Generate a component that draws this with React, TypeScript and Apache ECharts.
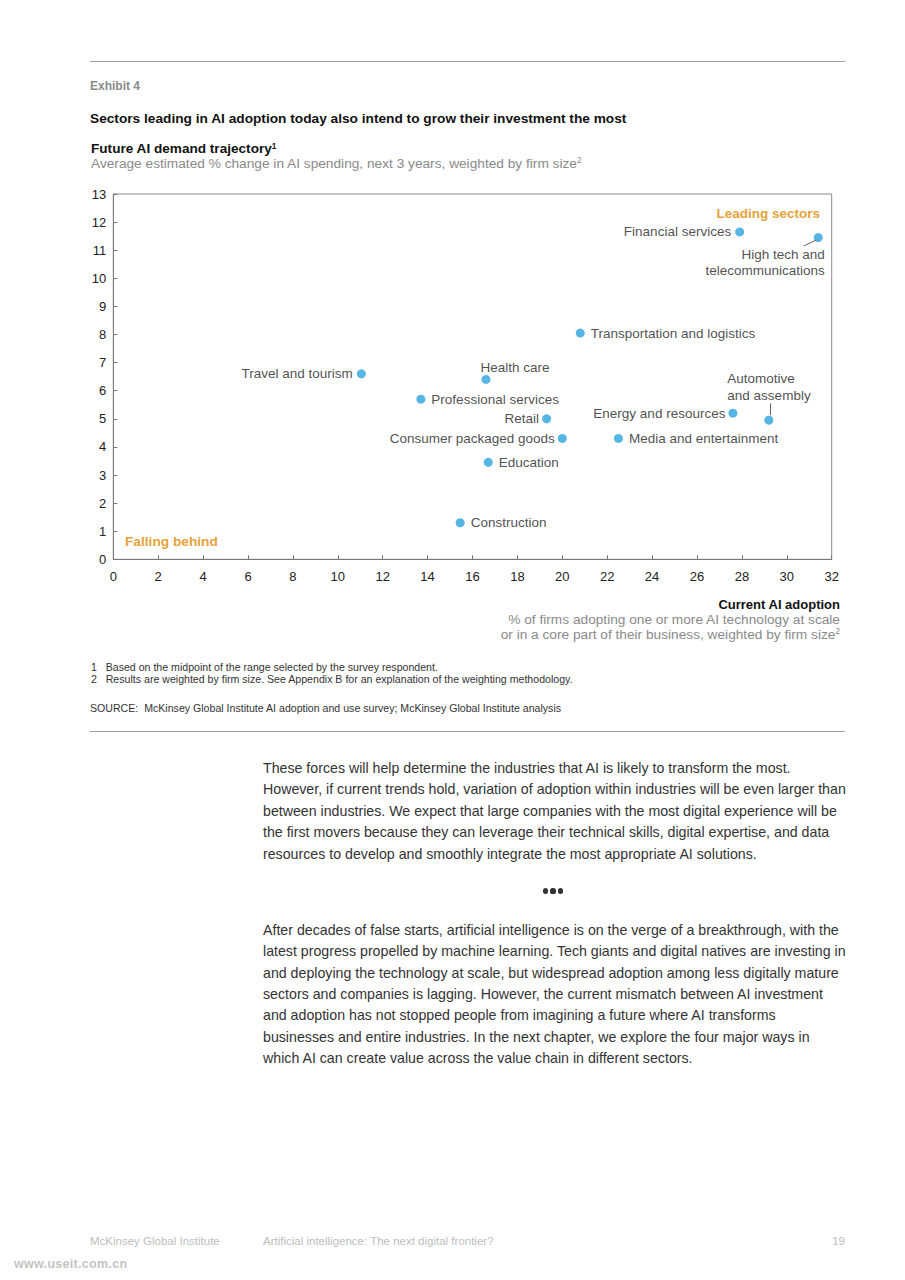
import React, { useEffect, useRef } from "react";
import * as echarts from "echarts";

// ---------- data ----------
const sectors = [
  "Financial services",
  "High tech and\ntelecommunications",
  "Transportation and logistics",
  "Travel and tourism",
  "Health care",
  "Professional services",
  "Retail",
  "Consumer packaged goods",
  "Education",
  "Construction",
  "Energy and resources",
  "Automotive\nand assembly",
  "Media and entertainment",
];
// Current AI adoption (% of firms)
const adoption = [27.9, 31.4, 20.8, 11.05, 16.6, 13.7, 19.3, 20.0, 16.7, 15.45, 27.6, 29.2, 22.5];
// Future AI demand trajectory (% change in spending)
const demand = [11.65, 11.45, 8.05, 6.6, 6.4, 5.7, 5.0, 4.3, 3.45, 1.3, 5.2, 4.95, 4.3];

const xMin = 0;
const xMax = 32;
const xStep = 2;
const yMin = 0;
const yMax = 13;
const yStep = 1;

// ---------- styling ----------
const FONT = '"Liberation Sans", Arial, Helvetica, sans-serif';
const BLUE = "#2BA3DC";
const ORANGE = "#E7A23A";

const sidePad = [3, 0, 0, 0];
const labelPlacement: Record<string, any> = {
  "Financial services": { position: "left", distance: 4, padding: sidePad },
  "High tech and\ntelecommunications": { position: [11, 13], align: "right", verticalAlign: "top", lineHeight: 16.5 },
  "Transportation and logistics": { position: "right", distance: 6, padding: sidePad },
  "Travel and tourism": { position: "left", distance: 4, padding: sidePad },
  "Health care": { position: [-1, 1], align: "left", verticalAlign: "bottom" },
  "Professional services": { position: "right", distance: 6, padding: sidePad },
  "Retail": { position: "left", distance: 3, padding: sidePad },
  "Consumer packaged goods": { position: "left", distance: 3, padding: sidePad },
  "Education": { position: "right", distance: 6, padding: sidePad },
  "Construction": { position: "right", distance: 6, padding: sidePad },
  "Energy and resources": { position: "left", distance: 3, padding: sidePad },
  "Automotive\nand assembly": { position: [-37, -12], align: "left", verticalAlign: "bottom" },
  "Media and entertainment": { position: "right", distance: 6, padding: sidePad },
};

// leader lines: offsets (in data units) from the point
const leaderOffsets: Record<string, [number, number, number, number]> = {
  "High tech and\ntelecommunications": [-0.07, -0.08, -0.65, -0.3],
  "Automotive\nand assembly": [0.05, 0.18, 0.05, 0.6],
};

function Chart() {
  const ref = useRef<HTMLDivElement>(null);
  useEffect(() => {
    if (!ref.current) return;
    const chart = echarts.init(ref.current, undefined, { renderer: "svg" });
    const data = sectors.map((name, i) => {
      const p = labelPlacement[name] || { position: "right" };
      return {
        name,
        value: [adoption[i], demand[i]],
        label: { ...p },
      };
    });
    const leaderData: any[] = [];
    sectors.forEach((name, i) => {
      const o = leaderOffsets[name];
      if (o) {
        leaderData.push([
          { coord: [adoption[i] + o[0], demand[i] + o[1]] },
          { coord: [adoption[i] + o[2], demand[i] + o[3]] },
        ]);
      }
    });
    chart.setOption({
      animation: false,
      textStyle: { fontFamily: FONT },
      grid: {
        left: 113.3,
        top: 194,
        width: 718.4,
        height: 365.3,
        show: true,
        borderColor: "#8a8a8a",
        borderWidth: 1,
        backgroundColor: "transparent",
      },
      xAxis: {
        type: "value",
        min: xMin,
        max: xMax,
        interval: xStep,
        axisLine: { show: true, lineStyle: { color: "#777", width: 1 } },
        axisTick: { show: true, inside: true, length: 4, lineStyle: { color: "#777" } },
        splitLine: { show: false },
        axisLabel: { color: "#222", fontSize: 13, margin: 11, fontFamily: FONT },
      },
      yAxis: {
        type: "value",
        min: yMin,
        max: yMax,
        interval: yStep,
        axisLine: { show: true, lineStyle: { color: "#777", width: 1 } },
        axisTick: { show: true, inside: true, length: 4, lineStyle: { color: "#777" } },
        splitLine: { show: false },
        axisLabel: { color: "#222", fontSize: 13, margin: 7, fontFamily: FONT },
      },
      graphic: [
        {
          type: "text",
          x: 820,
          y: 213,
          style: {
            text: "Leading sectors",
            align: "right",
            verticalAlign: "middle",
            fill: ORANGE,
            fontSize: 13.5,
            fontWeight: "bold",
            fontFamily: FONT,
          },
        },
        {
          type: "text",
          x: 125,
          y: 541,
          style: {
            text: "Falling behind",
            align: "left",
            verticalAlign: "middle",
            fill: ORANGE,
            fontSize: 13.7,
            fontWeight: "bold",
            fontFamily: FONT,
          },
        },
      ],
      series: [
        {
          type: "scatter",
          symbol: "circle",
          symbolSize: 9,
          itemStyle: { color: BLUE },
          label: {
            show: true,
            formatter: (p: any) => p.name,
            color: "#222",
            fontSize: 13.5,
            lineHeight: 17,
            fontFamily: FONT,
          },
          data,
          markLine: {
            silent: true,
            symbol: ["none", "none"],
            label: { show: false },
            lineStyle: { color: "#666", width: 1, type: "solid" },
            data: leaderData,
          },
        },
      ],
    });
    return () => chart.dispose();
  }, []);
  return (
    <div
      ref={ref}
      style={{ position: "absolute", left: 0, top: 0, width: 905, height: 600 }}
    />
  );
}

type TProps = {
  cy: number;
  left?: number;
  right?: number;
  lh?: number;
  size: number;
  color?: string;
  bold?: boolean;
  ls?: number;
  children: React.ReactNode;
};
function T({ cy, left, right, lh = 16, size, color = "#222", bold, ls = 0, children }: TProps) {
  const style: React.CSSProperties = {
    position: "absolute",
    top: cy - lh / 2,
    lineHeight: lh + "px",
    fontSize: size,
    color,
    fontWeight: bold ? "bold" : "normal",
    whiteSpace: "nowrap",
    fontFamily: FONT,
    letterSpacing: ls,
  };
  if (left !== undefined) style.left = left;
  if (right !== undefined) {
    style.right = right;
    style.textAlign = "right";
  }
  return <div style={style}>{children}</div>;
}

const supStyle: React.CSSProperties = { fontSize: "0.6em", verticalAlign: "0.55em", lineHeight: 0 };

const para1 = [
  "These forces will help determine the industries that AI is likely to transform the most.",
  "However, if current trends hold, variation of adoption within industries will be even larger than",
  "between industries. We expect that large companies with the most digital experience will be",
  "the first movers because they can leverage their technical skills, digital expertise, and data",
  "resources to develop and smoothly integrate the most appropriate AI solutions.",
];
const para2 = [
  "After decades of false starts, artificial intelligence is on the verge of a breakthrough, with the",
  "latest progress propelled by machine learning. Tech giants and digital natives are investing in",
  "and deploying the technology at scale, but widespread adoption among less digitally mature",
  "sectors and companies is lagging. However, the current mismatch between AI investment",
  "and adoption has not stopped people from imagining a future where AI transforms",
  "businesses and entire industries. In the next chapter, we explore the four major ways in",
  "which AI can create value across the value chain in different sectors.",
];

function Dot({ cx, cy }: { cx: number; cy: number }) {
  return (
    <div
      style={{
        position: "absolute",
        left: cx - 2.6,
        top: cy - 2.6,
        width: 5.2,
        height: 5.2,
        borderRadius: "50%",
        background: "#333",
      }}
    />
  );
}

export default function App() {
  const bodySize = 14.2;
  const bodyLs = 0;
  const foot = 10.6;
  return (
    <div
      style={{
        position: "absolute",
        left: 0,
        top: 0,
        width: 905,
        height: 1280,
        background: "#fff",
        overflow: "hidden",
        fontFamily: FONT,
      }}
    >
      <div style={{ position: "absolute", left: 90, top: 61, width: 755, height: 0, borderTop: "1px solid #a0a0a0" }} />
      <T cy={86} left={90} size={12} bold color="#8a8a8a">Exhibit 4</T>
      <T cy={119} left={90} size={13.7} bold color="#111">
        Sectors leading in AI adoption today also intend to grow their investment the most
      </T>
      <T cy={149} left={91} size={13.6} bold color="#111">
        Future AI demand trajectory<span style={supStyle}>1</span>
      </T>
      <T cy={164} left={91} size={13.7} color="#8a8a8a">
        Average estimated % change in AI spending, next 3 years, weighted by firm size<span style={supStyle}>2</span>
      </T>

      <Chart />

      <T cy={605} right={65} size={13} bold color="#111">Current AI adoption</T>
      <T cy={620} right={65} size={13.7} color="#8a8a8a">
        % of firms adopting one or more AI technology at scale
      </T>
      <T cy={635} right={65} size={13.7} color="#8a8a8a">
        or in a core part of their business, weighted by firm size<span style={supStyle}>2</span>
      </T>

      <T cy={667} left={91} size={foot} color="#333">
        1&nbsp;&nbsp;&nbsp;Based on the midpoint of the range selected by the survey respondent.
      </T>
      <T cy={679} left={91} size={foot} color="#333">
        2&nbsp;&nbsp;&nbsp;Results are weighted by firm size. See Appendix B for an explanation of the weighting methodology.
      </T>
      <T cy={708} left={90} size={foot} color="#333">
        SOURCE:&nbsp;&nbsp;McKinsey Global Institute AI adoption and use survey; McKinsey Global Institute analysis
      </T>
      <div style={{ position: "absolute", left: 90, top: 731, width: 755, height: 0, borderTop: "1px solid #a0a0a0" }} />

      {para1.map((line, i) => (
        <T key={"a" + i} cy={768 + i * 21.4} left={263} size={bodySize} ls={bodyLs} color="#333" lh={20}>
          {line}
        </T>
      ))}
      <Dot cx={545.5} cy={891} />
      <Dot cx={553} cy={891} />
      <Dot cx={560.5} cy={891} />
      {para2.map((line, i) => (
        <T key={"b" + i} cy={930 + i * 21.35} left={263} size={bodySize} ls={bodyLs} color="#333" lh={20}>
          {line}
        </T>
      ))}

      <T cy={1241} left={90} size={11.5} color="#bdbdbd">McKinsey Global Institute</T>
      <T cy={1241} left={263} size={11.5} color="#bdbdbd">Artificial intelligence: The next digital frontier?</T>
      <T cy={1241} right={60} size={11.5} color="#bdbdbd">19</T>
      <T cy={1264} left={14} size={12.5} bold ls={0.3} color="#c4c4c4">www.useit.com.cn</T>
    </div>
  );
}
